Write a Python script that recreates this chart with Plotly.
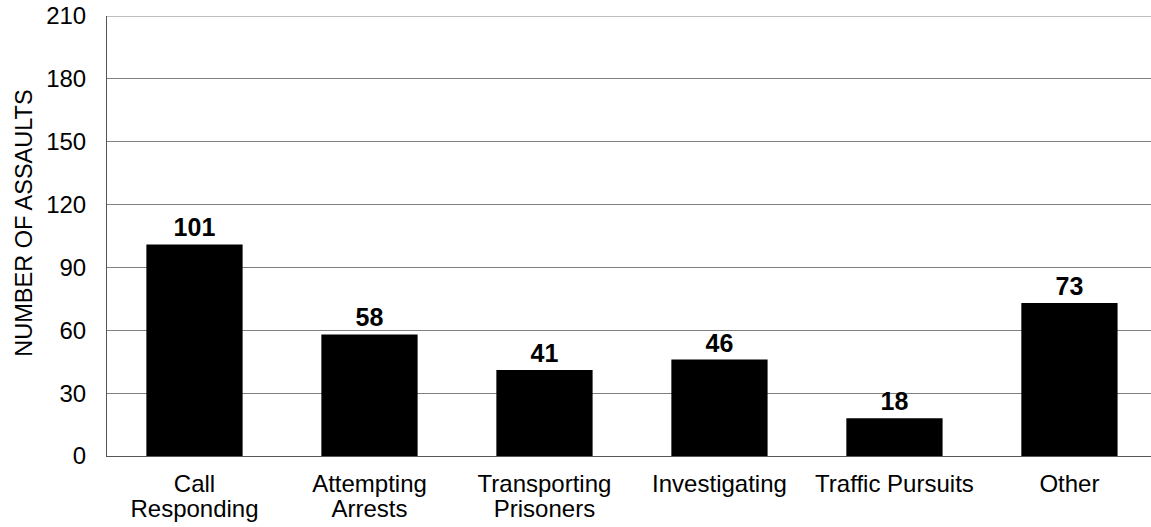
import plotly.graph_objects as go

categories = ["Call Responding", "Attempting Arrests", "Transporting Prisoners",
              "Investigating", "Traffic Pursuits", "Other"]
tick_labels = [["Call", "Responding"], ["Attempting", "Arrests"], ["Transporting", "Prisoners"],
               ["Investigating"], ["Traffic Pursuits"], ["Other"]]
assaults = [101, 58, 41, 46, 18, 73]
y_ticks = [0, 30, 60, 90, 120, 150, 180, 210]

# big glyphs, tighter line spacing (line spacing follows base font size)
span = '<span style="font-size:24px">{}</span>'
ticktext = ["<br>".join(span.format(w) for w in lines) for lines in tick_labels]

fig = go.Figure(go.Bar(
    x=categories,
    y=assaults,
    marker=dict(color="black", line=dict(width=0)),
    width=0.55,
    text=[f"<b>{v}</b>" for v in assaults],
    textposition="outside",
    textfont=dict(size=25, color="black"),
    cliponaxis=False,
))

fig.update_layout(
    width=1151,
    height=527,
    margin=dict(l=107, r=0, t=16, b=71),
    plot_bgcolor="white",
    paper_bgcolor="white",
    font=dict(family="Liberation Sans, Arial, sans-serif", color="black"),
    showlegend=False,
    annotations=[dict(
        text="NUMBER OF ASSAULTS", textangle=-90, showarrow=False,
        xref="paper", yref="paper", x=-0.0795, y=0.528,
        xanchor="center", yanchor="middle",
        font=dict(size=23.5, color="black"),
    )],
    # top gridline at 210 (plotly skips the grid line on the plot edge)
    shapes=[dict(type="line", xref="paper", x0=0, x1=1, yref="y", y0=210, y1=210,
                 line=dict(color="#808080", width=1))],
)
fig.update_xaxes(
    tickvals=categories, ticktext=ticktext, automargin=False,
    range=[-0.5, 5.466],
    showline=True, linecolor="#555", linewidth=1,
    ticks="", tickfont=dict(size=19), showgrid=False, ticklabelstandoff=12,
)
fig.update_yaxes(
    range=[0, 210], tickvals=y_ticks, automargin=False,
    showline=True, linecolor="#555", linewidth=1,
    showgrid=True, gridcolor="#808080", gridwidth=1,
    ticks="", tickfont=dict(size=24), ticklabelstandoff=15,
    zeroline=False,
)

fig.write_html("out.html", config={"displayModeBar": False},
               post_script="document.body.style.margin='0';")
